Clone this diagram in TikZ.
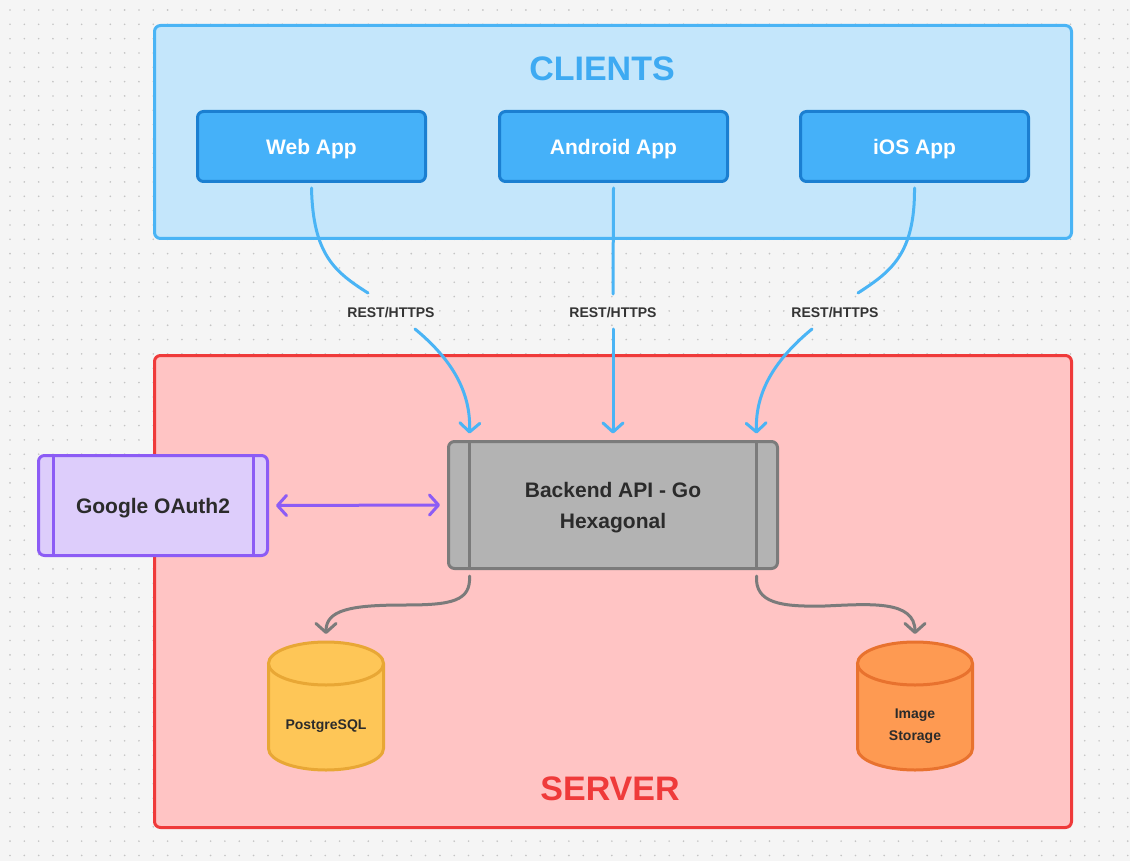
\documentclass[tikz,border=0pt]{standalone}
\usepackage{fontspec}
\setmainfont{Liberation Sans}
\usetikzlibrary{arrows.meta,calc}
\definecolor{bgcol}{HTML}{F5F5F5}
\definecolor{dotcol}{HTML}{C4C4C4}
\definecolor{clifill}{HTML}{C4E6FB}
\definecolor{clidraw}{HTML}{4AB4F5}
\definecolor{clitext}{HTML}{3EAAF2}
\definecolor{appfill}{HTML}{45B1F9}
\definecolor{appdraw}{HTML}{1B7FD1}
\definecolor{srvfill}{HTML}{FFC4C4}
\definecolor{srvdraw}{HTML}{EF3A3A}
\definecolor{bkfill}{HTML}{B3B3B3}
\definecolor{bkdraw}{HTML}{7B7B7B}
\definecolor{gofill}{HTML}{DDCDFB}
\definecolor{godraw}{HTML}{8C5CF5}
\definecolor{pgfill}{HTML}{FEC657}
\definecolor{pgdraw}{HTML}{E8A735}
\definecolor{imfill}{HTML}{FE9A52}
\definecolor{imdraw}{HTML}{E8722E}
\definecolor{txtdark}{HTML}{2B2B2B}
\definecolor{lbltext}{HTML}{333333}
\tikzset{
  container/.style={line width=3pt, rounded corners=6pt},
  appbox/.style={draw=appdraw, fill=appfill, line width=3pt, rounded corners=6pt,
    minimum width=228pt, minimum height=70pt, inner sep=0pt, text=white, text depth=0pt,
    font=\fontsize{21}{25}\selectfont\bfseries},
  sidebox/.style={line width=3pt, rounded corners=6pt, inner sep=0pt, text depth=0pt,
    text=txtdark, align=center, font=\fontsize{21}{31}\selectfont\bfseries},
  sideline/.style={line width=3pt},
  title/.style={text depth=0pt, font=\fontsize{34}{40}\selectfont\bfseries},
  lbl/.style={fill=bgcol, inner sep=1pt, text=lbltext, font=\fontsize{14}{16}\selectfont\bfseries},
  dbtext/.style={text=txtdark, align=center, text depth=0pt, font=\fontsize{14}{22}\selectfont\bfseries},
  conn/.style={line width=3pt, line cap=round},
  tip/.style={-{Straight Barb[length=9pt,width=20pt,line cap=round,line join=round]}},
  pics/dbcyl/.style n args={2}{code={
    \fill[#1] (-57.5,-42.5) rectangle (57.5,42.5);
    \fill[#1] (0,42.5) ellipse[x radius=57.5,y radius=21.5];
    \draw[#2, line width=3pt] (-57.5,-42.5) -- (-57.5,42.5)
      arc[start angle=180,end angle=0,x radius=57.5,y radius=21.5] -- (57.5,-42.5);
    \filldraw[fill=#1,draw=#2,line width=3pt] (0,-42.5) ellipse[x radius=57.5,y radius=21.5];
  }}
}
\begin{document}
\begin{tikzpicture}[x=1pt,y=-1pt]
\useasboundingbox (0,0) rectangle (1130,861);
\fill[bgcol] (0,0) rectangle (1130,861);
\foreach \i in {0,...,78}{
  \foreach \j in {0,...,59}{
    \fill[dotcol] (10+\i*14.33,10+\j*14.33) circle (0.9);
  }
}
% containers
\filldraw[container, fill=clifill, draw=clidraw] (154.5,25.5) rectangle (1071.5,238.5);
\filldraw[container, fill=srvfill, draw=srvdraw] (154.5,355.5) rectangle (1071.5,827.5);
\node[title, text=clitext] (clients) at (602,69) {CLIENTS};
\node[title, text=srvdraw] (server) at (610,789) {SERVER};
% apps
\node[appbox] (web) at (311.5,146.5) {Web App};
\node[appbox] (android) at (613.5,146.5) {Android App};
\node[appbox] (ios) at (914.5,146.5) {iOS App};
% backend
\node[sidebox, draw=bkdraw, fill=bkfill, minimum width=329pt, minimum height=127pt] (back) at (613,505) {Backend API - Go\\Hexagonal};
\draw[sideline, bkdraw] ([xshift=22.5pt]back.north west) -- ([xshift=22.5pt]back.south west);
\draw[sideline, bkdraw] ([xshift=-22.5pt]back.north east) -- ([xshift=-22.5pt]back.south east);
% google
\node[sidebox, draw=godraw, fill=gofill, minimum width=229pt, minimum height=100pt] (google) at (153,505.5) {Google OAuth2};
\draw[sideline, godraw] ([xshift=16.5pt]google.north west) -- ([xshift=16.5pt]google.south west);
\draw[sideline, godraw] ([xshift=-15.5pt]google.north east) -- ([xshift=-15.5pt]google.south east);
% databases
\pic at (326,706) {dbcyl={pgfill}{pgdraw}};
\pic at (915,706) {dbcyl={imfill}{imdraw}};
\node[dbtext] (pg) at (326,725) {PostgreSQL};
\node[dbtext] (img) at (915,725) {Image\\Storage};
\coordinate (pgtop) at (326,634);
\coordinate (imgtop) at (915,634);
% labels
\node[lbl] (l1) at (391,312.5) {REST/HTTPS};
\node[lbl] (l2) at (613,312.5) {REST/HTTPS};
\node[lbl] (l3) at (835,312.5) {REST/HTTPS};
% blue connectors
\coordinate (w1) at (368,293);
\coordinate (w2) at (415,329);
\coordinate (a1) at (613,294);
\coordinate (a2) at (613,329);
\coordinate (i1) at (858,293);
\coordinate (i2) at (812,329);
\draw[conn, clidraw] ([yshift=-5pt]web.south) .. controls (313,255) and (335,272) .. (w1);
\draw[conn, clidraw, tip] (w2) .. controls (450,358) and (471,390) .. ($(back.north west)+(22.5,-6.5)$);
\draw[conn, clidraw] ([yshift=-5pt]android.south) -- (a1);
\draw[conn, clidraw, tip] (a2) -- ([yshift=6.5pt]back.north);
\draw[conn, clidraw] ([yshift=-5pt]ios.south) .. controls (915,255) and (890,272) .. (i1);
\draw[conn, clidraw, tip] (i2) .. controls (777,358) and (755,390) .. ($(back.north east)+(-22.5,-6.5)$);
% purple
\draw[conn, godraw, {Straight Barb[length=9pt,width=20pt,line cap=round,line join=round]}-{Straight Barb[length=9pt,width=20pt,line cap=round,line join=round]}] ([xshift=7pt]google.east) -- ([xshift=-7pt]back.west);
% gray
\draw[conn, bkdraw, tip] ($(back.south west)+(22.5,6)$) .. controls (471,601) and (452,605) .. (405,605) .. controls (350,605) and (326,610) .. (pgtop);
\draw[conn, bkdraw, tip] ($(back.south east)+(-22.5,6)$) .. controls (755,603) and (780,607) .. (825,606) .. controls (870,604) and (915,600) .. (imgtop);
\end{tikzpicture}
\end{document}
